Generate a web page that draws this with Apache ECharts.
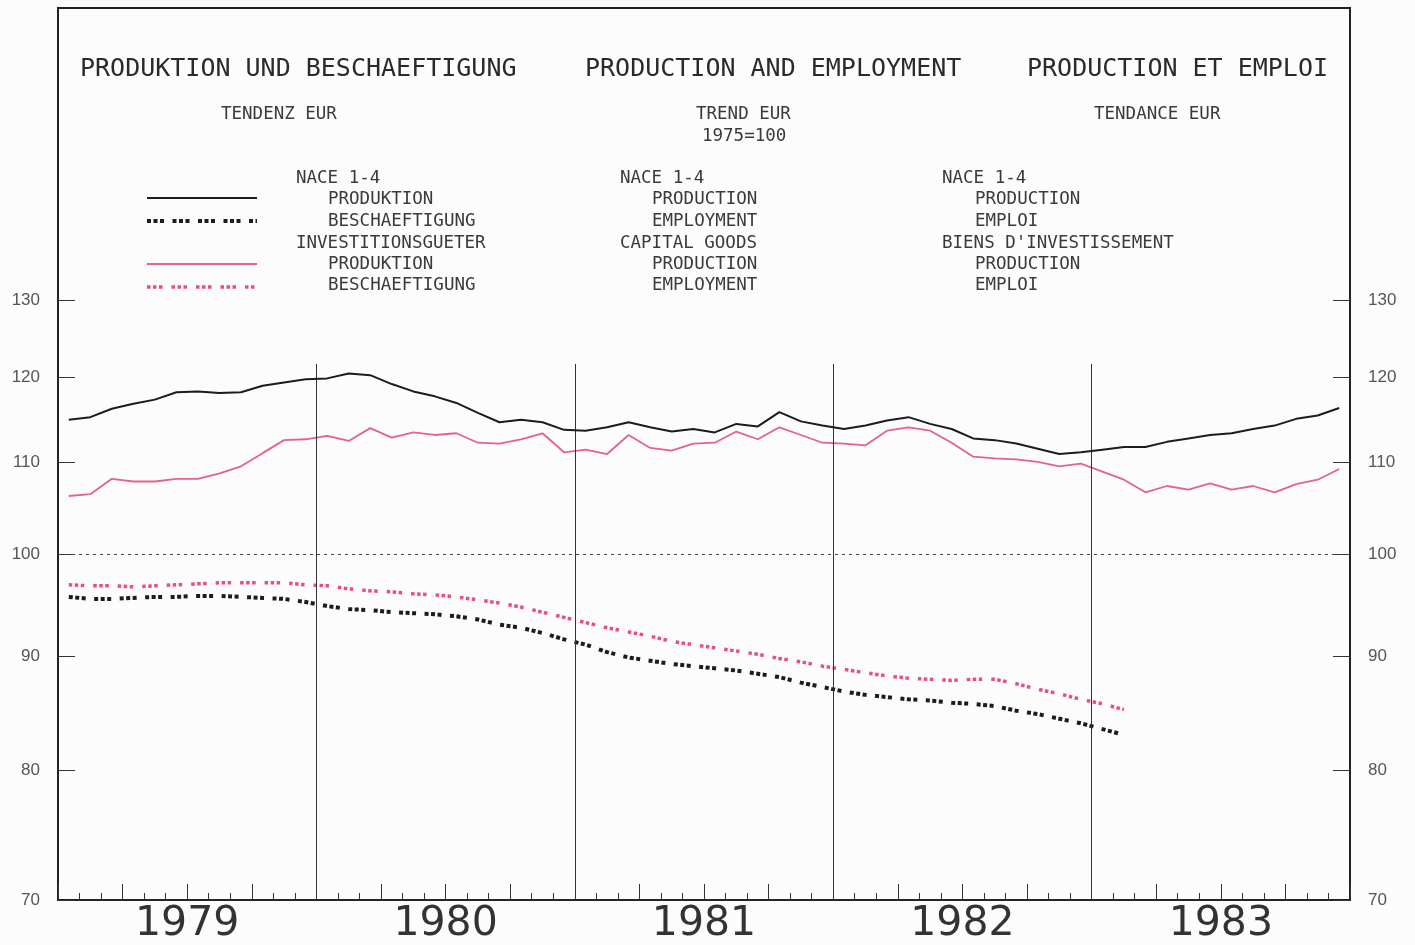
<!DOCTYPE html>
<html><head><meta charset="utf-8">
<script src="https://cdn.jsdelivr.net/npm/echarts@6/dist/echarts.min.js"></script>
<style>html,body{margin:0;padding:0;background:#fcfcfc}#c{width:1415px;height:945px}</style>
</head><body><div id="c"></div>
<script>
// ---- data (monthly, index 1975=100) ----
const startYear = 1979;
const yearLabels = [1979, 1980, 1981, 1982, 1983];
const yTicks = [70, 80, 90, 100, 110, 120, 130];
const yearBoundaries = [1980, 1981, 1982, 1983];

// NACE 1-4 production (Jan 1979 - Dec 1983)
const naceProduction = [
  114.9,115.2,116.2,116.8,117.3,118.2,118.3,118.1,118.2,119.0,119.4,119.8,
  119.9,120.5,120.3,119.2,118.3,117.7,116.9,115.7,114.6,114.9,114.6,113.7,
  113.6,114.0,114.6,114.0,113.5,113.8,113.4,114.4,114.1,115.8,114.7,114.2,
  113.8,114.2,114.8,115.2,114.4,113.8,112.7,112.5,112.1,111.5,110.9,111.1,
  111.4,111.7,111.7,112.3,112.7,113.1,113.3,113.8,114.2,115.0,115.4,116.3
];
// NACE 1-4 employment (Jan 1979 - Feb 1983)
const naceEmployment = [
  95.7,95.5,95.5,95.6,95.7,95.7,95.8,95.8,95.7,95.6,95.5,95.2,
  94.8,94.5,94.4,94.2,94.1,94.0,93.8,93.5,93.0,92.7,92.2,91.6,
  91.1,90.4,89.9,89.6,89.3,89.1,88.9,88.7,88.4,88.1,87.6,87.2,
  86.8,86.5,86.3,86.1,86.0,85.8,85.7,85.5,85.1,84.8,84.4,84.0,
  83.5,83.0
];
// Capital goods production
const capProduction = [
  106.2,106.4,108.1,107.8,107.8,108.1,108.1,108.7,109.5,111.0,112.5,112.6,
  113.0,112.4,113.9,112.8,113.4,113.1,113.3,112.2,112.1,112.6,113.3,111.1,
  111.4,110.9,113.1,111.6,111.3,112.1,112.2,113.5,112.6,114.0,113.1,112.2,
  112.1,111.9,113.6,114.0,113.6,112.2,110.6,110.4,110.3,110.0,109.5,109.8,
  108.9,108.0,106.6,107.3,106.9,107.6,106.9,107.3,106.6,107.5,108.0,109.2
];
// Capital goods employment
const capEmployment = [
  96.9,96.8,96.8,96.7,96.8,96.9,97.0,97.1,97.1,97.1,97.1,96.9,
  96.8,96.5,96.3,96.2,96.0,95.9,95.7,95.4,95.1,94.7,94.2,93.7,
  93.2,92.7,92.3,91.9,91.4,91.1,90.8,90.5,90.2,89.8,89.5,89.1,
  88.8,88.5,88.2,88.0,87.9,87.8,87.9,87.9,87.5,87.0,86.6,86.1,
  85.7,85.2
];

// month index -> mid-month position on a decimal-year axis
const toPoints = arr => arr.map((v, i) => [startYear + (i + 0.5) / 12, v]);

const MONO = '"DejaVu Sans Mono", monospace';
const textEl = (text, x, y, size, color) => ({
  type: 'text', z: 10, silent: true,
  style: { text, x, y, fontSize: size, fontFamily: MONO, fill: color || '#3a3a3a', verticalAlign: 'middle', align: 'left' }
});
const lineEl = (y, color, width, dash) => ({
  type: 'line', z: 10, silent: true,
  shape: { x1: 147, y1: y, x2: 257, y2: y },
  style: { stroke: color, lineWidth: width, lineDash: dash || null }
});

const DOTS_BLACK = [4, 2.5, 4, 2.5, 4, 8.5];
const DOTS_PINK = [3.5, 2.5, 3.5, 2.5, 3.5, 9];
const BLACK = '#1c1c1c';
const PINK = '#e3628f';
const PINK_DOT = '#ea4d83';

const yAxisBase = (pos) => ({
  type: 'log', logBase: 10, min: 70, max: 130, position: pos,
  axisLine: { show: true, lineStyle: { color: '#222', width: 2 } },
  axisTick: { show: true, inside: true, length: 17, customValues: yTicks, lineStyle: { color: '#333', width: 1 } },
  minorTick: { show: false },
  splitLine: { show: false },
  axisLabel: { customValues: yTicks, margin: 18, fontSize: 17, fontFamily: '"Liberation Sans", Arial, sans-serif', color: '#555' }
});

const chart = echarts.init(document.getElementById('c'), null, { renderer: 'canvas' });
chart.setOption({
  animation: false,
  backgroundColor: '#fcfcfc',
  grid: { left: 58, right: 65, top: 300, bottom: 45, containLabel: false, outerBoundsMode: 'none' },
  xAxis: {
    type: 'value', min: 1979, max: 1984, interval: 0.25,
    axisLine: { show: true, lineStyle: { color: '#222', width: 2 } },
    axisTick: { show: true, inside: true, length: 16, lineStyle: { color: '#333', width: 1 } },
    minorTick: { show: true, splitNumber: 3, length: 7, lineStyle: { color: '#333', width: 1 } },
    splitLine: { show: false },
    axisLabel: {
      customValues: yearLabels.map(y => y + 0.5),
      formatter: v => String(Math.floor(v)),
      margin: 4, fontSize: 41, fontFamily: '"DejaVu Sans", sans-serif', color: '#333'
    }
  },
  yAxis: [yAxisBase('left'), yAxisBase('right')],
  graphic: [
    { type: 'rect', z: 0, silent: true, shape: { x: 58, y: 8, width: 1292, height: 892 },
      style: { fill: 'none', stroke: '#222', lineWidth: 2 } },
    textEl('PRODUKTION UND BESCHAEFTIGUNG', 80, 69, 25, '#2a2a2a'),
    textEl('PRODUCTION AND EMPLOYMENT', 585, 69, 25, '#2a2a2a'),
    textEl('PRODUCTION ET EMPLOI', 1027, 69, 25, '#2a2a2a'),
    textEl('TENDENZ EUR', 221, 114, 17.5),
    textEl('TREND EUR', 696, 114, 17.5),
    textEl('1975=100', 702, 136, 17.5),
    textEl('TENDANCE EUR', 1094, 114, 17.5),
    // legend column DE
    textEl('NACE 1-4', 296, 178, 17.5),
    textEl('PRODUKTION', 328, 199, 17.5),
    textEl('BESCHAEFTIGUNG', 328, 221, 17.5),
    textEl('INVESTITIONSGUETER', 296, 243, 17.5),
    textEl('PRODUKTION', 328, 264, 17.5),
    textEl('BESCHAEFTIGUNG', 328, 285, 17.5),
    // legend column EN
    textEl('NACE 1-4', 620, 178, 17.5),
    textEl('PRODUCTION', 652, 199, 17.5),
    textEl('EMPLOYMENT', 652, 221, 17.5),
    textEl('CAPITAL GOODS', 620, 243, 17.5),
    textEl('PRODUCTION', 652, 264, 17.5),
    textEl('EMPLOYMENT', 652, 285, 17.5),
    // legend column FR
    textEl('NACE 1-4', 942, 178, 17.5),
    textEl('PRODUCTION', 975, 199, 17.5),
    textEl('EMPLOI', 975, 221, 17.5),
    textEl("BIENS D'INVESTISSEMENT", 942, 243, 17.5),
    textEl('PRODUCTION', 975, 264, 17.5),
    textEl('EMPLOI', 975, 285, 17.5),
    // legend symbols
    lineEl(198, BLACK, 2),
    lineEl(221, BLACK, 4, DOTS_BLACK),
    lineEl(264, PINK, 1.8),
    lineEl(287, PINK_DOT, 3.5, DOTS_PINK)
  ],
  series: [
    {
      name: 'NACE 1-4 PRODUKTION', type: 'line', data: toPoints(naceProduction),
      showSymbol: false, symbol: 'none', z: 5,
      lineStyle: { color: BLACK, width: 2 },
      markLine: {
        silent: true, symbol: 'none', label: { show: false },
        data: [
          { yAxis: 100, lineStyle: { color: '#444', width: 1, type: [3, 4] } }
        ].concat(yearBoundaries.map(y => [
          { coord: [y, 121.7], lineStyle: { color: '#333', width: 1, type: 'solid' } },
          { coord: [y, 70] }
        ]))
      }
    },
    {
      name: 'NACE 1-4 BESCHAEFTIGUNG', type: 'line', data: toPoints(naceEmployment),
      showSymbol: false, symbol: 'none', z: 4,
      lineStyle: { color: BLACK, width: 4, type: DOTS_BLACK, cap: 'butt' }
    },
    {
      name: 'INVESTITIONSGUETER PRODUKTION', type: 'line', data: toPoints(capProduction),
      showSymbol: false, symbol: 'none', z: 4,
      lineStyle: { color: PINK, width: 1.8 }
    },
    {
      name: 'INVESTITIONSGUETER BESCHAEFTIGUNG', type: 'line', data: toPoints(capEmployment),
      showSymbol: false, symbol: 'none', z: 4,
      lineStyle: { color: PINK_DOT, width: 3.5, type: DOTS_PINK, cap: 'butt' }
    }
  ]
});
</script>
</body></html>
